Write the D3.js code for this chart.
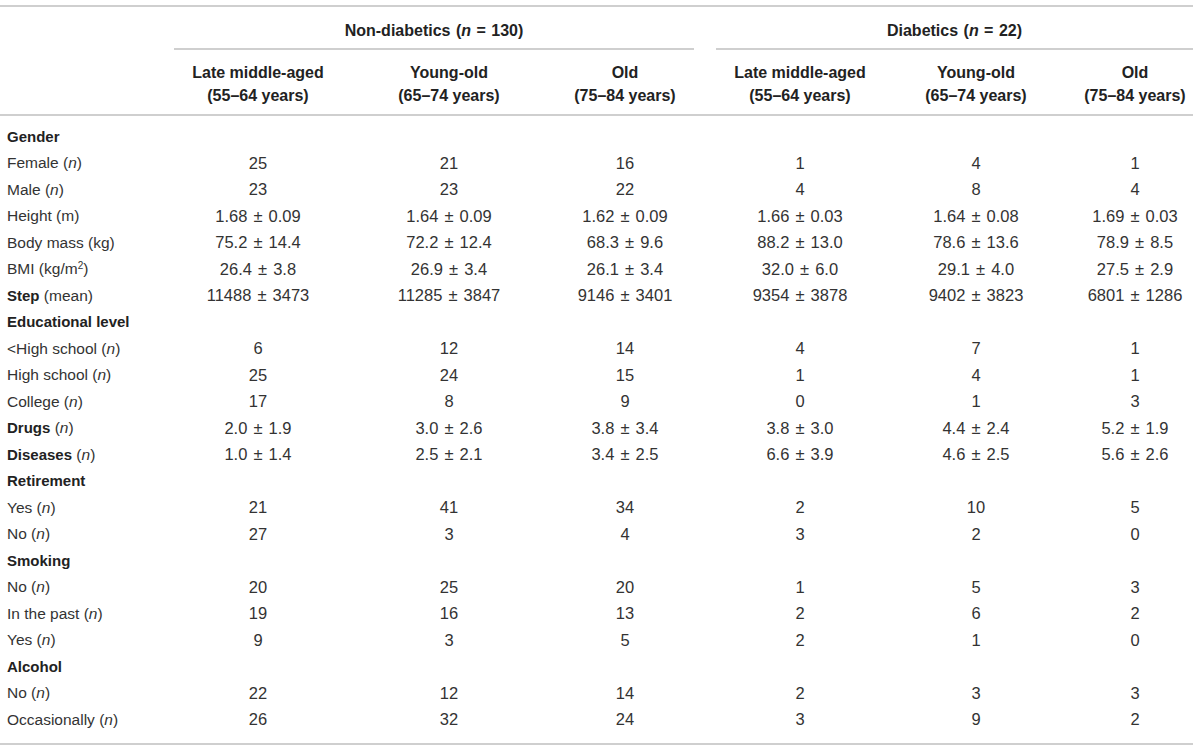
<!DOCTYPE html>
<html>
<head>
<meta charset="utf-8">
<script src="https://cdn.jsdelivr.net/npm/d3@7"></script>
<style>
  html, body { margin: 0; padding: 0; background: #fff; }
  svg text { font-family: "Liberation Sans", Arial, Helvetica, sans-serif; fill: #333; }
  .bold { font-weight: bold; fill: #222; }
  .rule { stroke: #cfcfcf; stroke-width: 2; }
</style>
</head>
<body>
<div id="chart"></div>
<script>
// group headers (n in italic)
var groupNames = ["Non-diabetics", "Diabetics"];
var groupN = [130, 22];
// age columns, repeated for each group
var ageNames = ["Late middle-aged", "Young-old", "Old"];
var ageRanges = ["(55\u201364 years)", "(65\u201374 years)", "(75\u201384 years)"];

// row labels: [bold part, regular part, italic part, tail, superscript]
var rowLabels = [
    ["Gender"],
    ["", "Female (", "n", ")"],
    ["", "Male (", "n", ")"],
    ["", "Height (m)"],
    ["", "Body mass (kg)"],
    ["", "BMI (kg/m", "", ")", "2"],
    ["Step", " (mean)"],
    ["Educational level"],
    ["", "<High school (", "n", ")"],
    ["", "High school (", "n", ")"],
    ["", "College (", "n", ")"],
    ["Drugs", " (", "n", ")"],
    ["Diseases", " (", "n", ")"],
    ["Retirement"],
    ["", "Yes (", "n", ")"],
    ["", "No (", "n", ")"],
    ["Smoking"],
    ["", "No (", "n", ")"],
    ["", "In the past (", "n", ")"],
    ["", "Yes (", "n", ")"],
    ["Alcohol"],
    ["", "No (", "n", ")"],
    ["", "Occasionally (", "n", ")"]
];

// values per row, 6 columns: non-diabetics x3, diabetics x3
var female      = ["25", "21", "16", "1", "4", "1"];
var male        = ["23", "23", "22", "4", "8", "4"];
var height      = ["1.68 \u00b1 0.09", "1.64 \u00b1 0.09", "1.62 \u00b1 0.09", "1.66 \u00b1 0.03", "1.64 \u00b1 0.08", "1.69 \u00b1 0.03"];
var bodyMass    = ["75.2 \u00b1 14.4", "72.2 \u00b1 12.4", "68.3 \u00b1 9.6", "88.2 \u00b1 13.0", "78.6 \u00b1 13.6", "78.9 \u00b1 8.5"];
var bmi         = ["26.4 \u00b1 3.8", "26.9 \u00b1 3.4", "26.1 \u00b1 3.4", "32.0 \u00b1 6.0", "29.1 \u00b1 4.0", "27.5 \u00b1 2.9"];
var step        = ["11488 \u00b1 3473", "11285 \u00b1 3847", "9146 \u00b1 3401", "9354 \u00b1 3878", "9402 \u00b1 3823", "6801 \u00b1 1286"];
var belowHigh   = ["6", "12", "14", "4", "7", "1"];
var highSchool  = ["25", "24", "15", "1", "4", "1"];
var college     = ["17", "8", "9", "0", "1", "3"];
var drugs       = ["2.0 \u00b1 1.9", "3.0 \u00b1 2.6", "3.8 \u00b1 3.4", "3.8 \u00b1 3.0", "4.4 \u00b1 2.4", "5.2 \u00b1 1.9"];
var diseases    = ["1.0 \u00b1 1.4", "2.5 \u00b1 2.1", "3.4 \u00b1 2.5", "6.6 \u00b1 3.9", "4.6 \u00b1 2.5", "5.6 \u00b1 2.6"];
var retiredYes  = ["21", "41", "34", "2", "10", "5"];
var retiredNo   = ["27", "3", "4", "3", "2", "0"];
var smokeNo     = ["20", "25", "20", "1", "5", "3"];
var smokePast   = ["19", "16", "13", "2", "6", "2"];
var smokeYes    = ["9", "3", "5", "2", "1", "0"];
var alcoholNo   = ["22", "12", "14", "2", "3", "3"];
var alcoholOcc  = ["26", "32", "24", "3", "9", "2"];

var rowValues = [null, female, male, height, bodyMass, bmi, step, null,
    belowHigh, highSchool, college, drugs, diseases, null,
    retiredYes, retiredNo, null, smokeNo, smokePast, smokeYes, null,
    alcoholNo, alcoholOcc];

var W = 1200, H = 749;
var svg = d3.select("#chart").append("svg")
    .attr("width", W)
    .attr("height", H);

// column positions
var colKeys = d3.range(6);
var x = d3.scaleOrdinal().domain(colKeys).range([258, 449, 625, 800, 976, 1135]);
// group spans (underlines)
var groupSpan = [[174, 694], [716, 1193]];
// row positions
var y = d3.scalePoint().domain(d3.range(rowLabels.length)).range([136.5, 719.5]);

// horizontal rules
var rules = [[0, 1193, 6], [0, 1193, 115], [0, 1193, 744]];
groupSpan.forEach(function(s){ rules.push([s[0], s[1], 49]); });
svg.selectAll("line.rule")
    .data(rules)
    .enter()
    .append("line")
    .attr("class", "rule")
    .attr("x1", function(d){ return d[0]; })
    .attr("x2", function(d){ return d[1]; })
    .attr("y1", function(d){ return d[2]; })
    .attr("y2", function(d){ return d[2]; });

// group headers
var gh = svg.selectAll("text.group")
    .data(groupNames)
    .enter()
    .append("text")
    .attr("class", "group bold")
    .attr("x", function(d, i){ return (groupSpan[i][0] + groupSpan[i][1]) / 2; })
    .attr("y", 30)
    .attr("dy", "0.35em")
    .attr("text-anchor", "middle")
    .style("font-size", "16px")
    .style("word-spacing", "1px");
gh.append("tspan").text(function(d){ return d + " ("; });
gh.append("tspan").style("font-style", "italic").text("n");
gh.append("tspan").text(function(d, i){ return " = " + groupN[i] + ")"; });

// column headers
var ch = svg.selectAll("text.colhead")
    .data(colKeys)
    .enter()
    .append("text")
    .attr("class", "colhead bold")
    .attr("text-anchor", "middle")
    .style("font-size", "16px");
ch.append("tspan")
    .attr("x", function(d){ return x(d); })
    .attr("y", 72)
    .attr("dy", "0.35em")
    .text(function(d){ return ageNames[d % 3]; });
ch.append("tspan")
    .attr("x", function(d){ return x(d); })
    .attr("y", 95)
    .attr("dy", "0.35em")
    .text(function(d){ return ageRanges[d % 3]; });

// row labels
var rl = svg.selectAll("text.rowlabel")
    .data(rowLabels)
    .enter()
    .append("text")
    .attr("class", "rowlabel")
    .attr("x", 7)
    .attr("y", function(d, i){ return y(i); })
    .attr("dy", "0.35em")
    .style("font-size", "15.5px");
rl.each(function(d){
    var t = d3.select(this);
    if (d[0]) t.append("tspan").attr("class", "bold").style("font-size", "15px").text(d[0]);
    if (d[1]) t.append("tspan").text(d[1]);
    if (d[4]) t.append("tspan").attr("baseline-shift", "super").style("font-size", "10px").text(d[4]);
    if (d[2]) t.append("tspan").style("font-style", "italic").text(d[2]);
    if (d[3]) t.append("tspan").text(d[3]);
});

// cell values
var cells = [];
rowValues.forEach(function(vals, i){
    if (!vals) return;
    vals.forEach(function(v, j){ cells.push({row: i, col: j, value: v}); });
});
svg.selectAll("text.cell")
    .data(cells)
    .enter()
    .append("text")
    .attr("class", "cell")
    .attr("x", function(d){ return x(d.col); })
    .attr("y", function(d){ return y(d.row); })
    .attr("dy", "0.35em")
    .attr("text-anchor", "middle")
    .style("font-size", "16.5px")
    .style("word-spacing", "1.5px")
    .text(function(d){ return d.value; });
</script>
</body>
</html>
